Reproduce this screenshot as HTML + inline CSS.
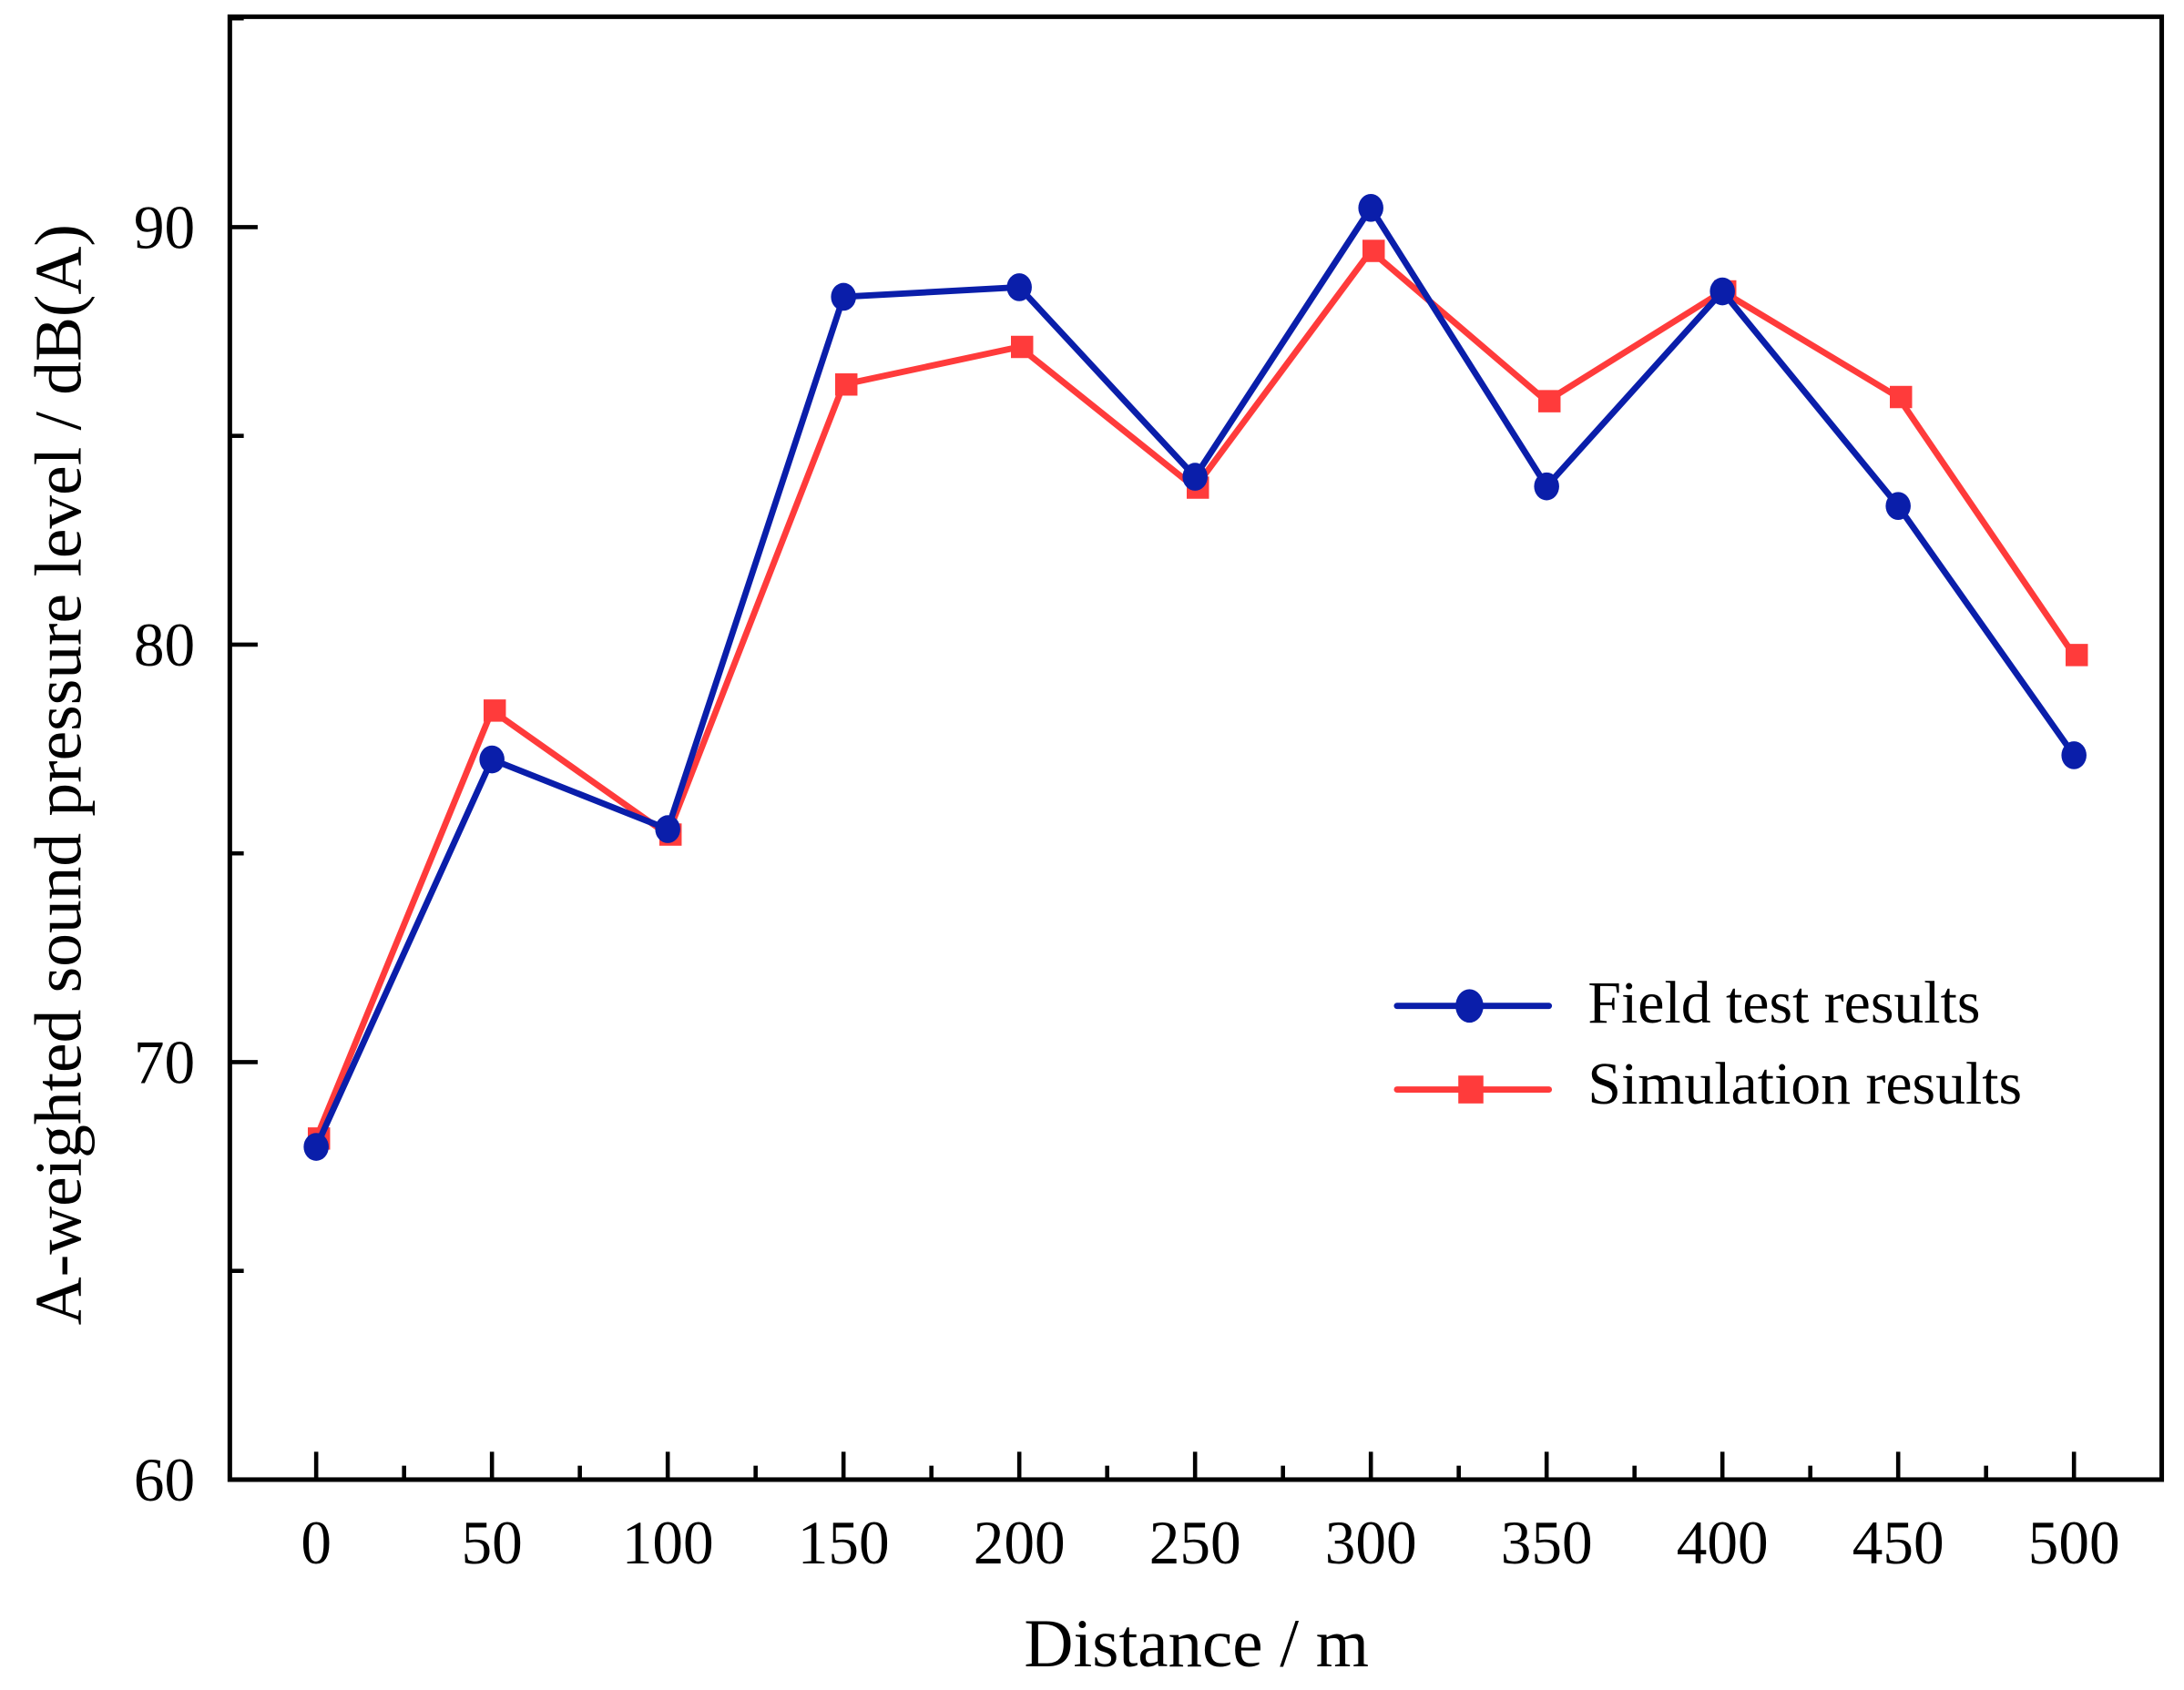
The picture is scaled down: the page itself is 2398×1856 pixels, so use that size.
<!DOCTYPE html>
<html><head><meta charset="utf-8"><style>html,body{margin:0;padding:0;background:#fff}svg{display:block}</style></head>
<body>
<svg id="chart" width="2398" height="1856" viewBox="0 0 1568 1213" preserveAspectRatio="none" xmlns="http://www.w3.org/2000/svg" font-family="'Liberation Serif', serif">
<rect width="1568" height="1213" fill="#fff"/>
<g id="grid"></g>
<g id="series"></g>
<rect x="165" y="12" width="1387" height="1050" fill="none" stroke="#000" stroke-width="3.3"/>
<text x="859" y="1196" font-size="49" text-anchor="middle">Distance / m</text>
<text transform="translate(58,556) rotate(-90)" font-size="48" text-anchor="middle">A-weighted sound pressure level / dB(A)</text>
<g>
<line x1="1003" y1="722" x2="1112" y2="722" stroke="#0a1eaa" stroke-width="4.5" stroke-linecap="round"/>
<ellipse cx="1055" cy="722" rx="10" ry="12" fill="#0a1eaa"/>
<text x="1140" y="734" font-size="43">Field test results</text>
<line x1="1003" y1="782" x2="1112" y2="782" stroke="#ff3b3b" stroke-width="4.5" stroke-linecap="round"/>
<rect x="1047" y="772" width="18" height="20" fill="#ff3b3b"/>
<text x="1140" y="792" font-size="43">Simulation results</text>
</g>
</svg>
<script>
const distances=[0,50,100,150,200,250,300,350,400,450,500];
const fieldValues=[67.97,77.25,75.58,88.33,88.56,84.02,90.46,83.79,88.46,83.32,77.35];
const simValues=[68.17,78.42,75.45,86.23,87.13,83.76,89.43,85.83,88.46,85.93,79.75];
const xTicks=[0,50,100,150,200,250,300,350,400,450,500];
const yTicks=[60,70,80,90];
const NS="http://www.w3.org/2000/svg";
function xs(v){return 227+(v-0)*(1489-227)/500;}
function ys(v){return 1062-(v-60)*(1062-163)/30;}
function mk(tag,attrs,parent){const e=document.createElementNS(NS,tag);for(const k in attrs)e.setAttribute(k,attrs[k]);parent.appendChild(e);return e;}
const g=document.getElementById('grid'),s=document.getElementById('series');
for(let v=0;v<=500;v+=25){
  const major=v%50===0;
  const t=mk('line',{x1:xs(v),x2:xs(v),y1:1062,y2:1062-(major?20:10),stroke:'#000','stroke-width':3},g);
  
  
}
xTicks.forEach(v=>{
  const t=mk('text',{x:xs(v),y:1122,'font-size':44,'text-anchor':'middle'},g);t.textContent=v;
  
  
});
for(let v=60;v<=95;v+=5){
  const major=v%10===0;
  const t=mk('line',{x1:165,x2:165+(major?20:10),y1:ys(v),y2:ys(v),stroke:'#000','stroke-width':3},g);
  
  
}
yTicks.forEach(v=>{
  const t=mk('text',{x:140,y:ys(v)+15,'font-size':44,'text-anchor':'end'},g);t.textContent=v;
  
  
});
function draw(vals,color,kind,name){
  const pl=mk('polyline',{points:distances.map((d,i)=>xs(d)+','+ys(vals[i])).join(' '),fill:'none',stroke:color,'stroke-width':4.5,'stroke-linejoin':'round'},s);
  
  
  distances.forEach((d,i)=>{
    let m;
    if(kind==='c')m=mk('ellipse',{cx:xs(d),cy:ys(vals[i]),rx:9,ry:10,fill:color},s);
    else m=mk('rect',{x:xs(d)-8+2,y:ys(vals[i])-8,width:16,height:16,fill:color},s);
    
    
  });
}
draw(simValues,'#ff3b3b','s','simulation');
draw(fieldValues,'#0a1eaa','c','field-test');
</script>
</body></html>
